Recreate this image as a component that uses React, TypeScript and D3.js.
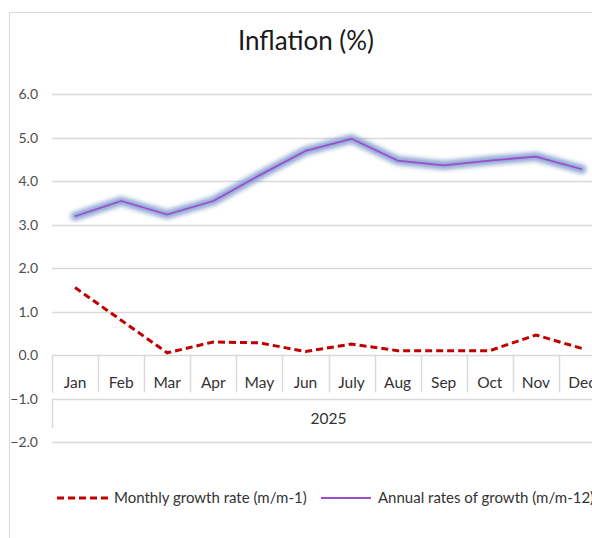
import React, { useEffect, useRef } from 'react';
import * as d3 from 'd3';

const months = ['Jan', 'Feb', 'Mar', 'Apr', 'May', 'Jun', 'July', 'Aug', 'Sep', 'Oct', 'Nov', 'Dec'];
const year = '2025';
const monthlyGrowth = [1.55, 0.8, 0.05, 0.3, 0.28, 0.08, 0.25, 0.1, 0.1, 0.1, 0.46, 0.15];
const annualGrowth = [3.19, 3.54, 3.23, 3.54, 4.13, 4.69, 4.97, 4.47, 4.36, 4.47, 4.56, 4.27];
const yTicks = [-2, -1, 0, 1, 2, 3, 4, 5, 6];
const seriesNames = ['Monthly growth rate (m/m-1)', 'Annual rates of growth (m/m-12)'];

const FONT = 'Lato, "Open Sans", sans-serif';

function App() {
  const svgRef = useRef<SVGSVGElement>(null);

  useEffect(() => {
    const width = 592;
    const height = 538;
    const svg = d3.select(svgRef.current);
    svg.selectAll('*').remove();

    const x = d3.scaleBand().domain(months).range([52, 605]);
    const y = d3.scaleLinear().domain([-2, 6]).range([442, 94]);
    const cx = (m: string) => (x(m) as number) + x.bandwidth() / 2;

    // chart frame (right/bottom edges fall outside the view)
    svg.append('rect')
      .attr('x', 9.5).attr('y', 12.5)
      .attr('width', 700).attr('height', 700)
      .attr('fill', '#fff')
      .attr('stroke', '#d9d9d9');

    svg.append('text')
      .attr('x', 306).attr('y', 50)
      .attr('text-anchor', 'middle')
      .style('font-family', FONT)
      .style('font-size', '26px')
      .style('fill', '#1a1a1a')
      .text('Inflation (%)');

    // gridlines
    svg.append('g').selectAll('line')
      .data(yTicks.filter(t => t !== 0))
      .enter().append('line')
      .attr('x1', 52).attr('x2', width)
      .attr('y1', d => Math.round(y(d)) + 0.5)
      .attr('y2', d => Math.round(y(d)) + 0.5)
      .attr('stroke', '#d9d9d9')
      .attr('stroke-width', 1.5);

    // y tick labels
    svg.append('g').selectAll('text')
      .data(yTicks)
      .enter().append('text')
      .attr('x', 38)
      .attr('y', d => y(d))
      .attr('dy', '0.36em')
      .attr('text-anchor', 'end')
      .style('font-family', FONT)
      .style('font-size', '14px')
      .style('fill', '#4d4d4d')
      .text(d => d3.format('.1f')(d));

    // category axis at zero
    const y0 = Math.round(y(0)) + 0.5;
    const yMid = Math.round(y(-1)) + 0.5;
    const axis = svg.append('g').attr('stroke', '#d9d9d9').attr('stroke-width', 1.5);
    axis.append('line').attr('x1', 52).attr('x2', width).attr('y1', y0).attr('y2', y0);
    axis.selectAll('line.tick')
      .data(months)
      .enter().append('line')
      .attr('class', 'tick')
      .attr('x1', d => Math.round(x(d) as number) + 0.5)
      .attr('x2', d => Math.round(x(d) as number) + 0.5)
      .attr('y1', y0).attr('y2', yMid - 7);
    axis.append('line')
      .attr('x1', 52.5).attr('x2', 52.5)
      .attr('y1', yMid).attr('y2', 428);

    svg.append('g').selectAll('text')
      .data(months)
      .enter().append('text')
      .attr('x', d => cx(d))
      .attr('y', 388)
      .attr('text-anchor', 'middle')
      .style('font-family', FONT)
      .style('font-size', '15.5px')
      .style('fill', '#333')
      .text(d => d);

    svg.append('text')
      .attr('x', (52 + 605) / 2)
      .attr('y', 424)
      .attr('text-anchor', 'middle')
      .style('font-family', FONT)
      .style('font-size', '15.5px')
      .style('fill', '#333')
      .text(year);

    // glow filter
    const defs = svg.append('defs');
    const filter = defs.append('filter').attr('id', 'glow')
      .attr('x', '-10%').attr('y', '-20%').attr('width', '120%').attr('height', '140%');
    filter.append('feGaussianBlur').attr('stdDeviation', 2);

    const line = d3.line<number>()
      .x((d, i) => cx(months[i]))
      .y(d => y(d));

    svg.append('path')
      .datum(annualGrowth)
      .attr('d', line)
      .attr('fill', 'none')
      .attr('stroke', '#7f99cc')
      .attr('stroke-width', 9)
      .attr('stroke-linejoin', 'round')
      .attr('stroke-linecap', 'round')
      .attr('opacity', 0.85)
      .attr('filter', 'url(#glow)');

    svg.append('path')
      .datum(annualGrowth)
      .attr('d', line)
      .attr('fill', 'none')
      .attr('stroke', '#9a4fd0')
      .attr('stroke-width', 1.8)
      .attr('stroke-linejoin', 'round');

    svg.append('path')
      .datum(monthlyGrowth)
      .attr('d', line)
      .attr('fill', 'none')
      .attr('stroke', '#c00000')
      .attr('stroke-width', 3)
      .attr('stroke-dasharray', '7,4');

    // legend
    const legend = svg.append('g').attr('transform', 'translate(0,498)');
    legend.append('line')
      .attr('x1', 57).attr('x2', 108)
      .attr('stroke', '#c00000').attr('stroke-width', 3)
      .attr('stroke-dasharray', '7,4');
    legend.append('text')
      .attr('x', 114).attr('dy', '0.35em')
      .style('font-family', FONT).style('font-size', '15px').style('fill', '#333')
      .text(seriesNames[0]);
    legend.append('line')
      .attr('x1', 321).attr('x2', 371)
      .attr('stroke', '#9a4fd0').attr('stroke-width', 1.8);
    legend.append('text')
      .attr('x', 378).attr('dy', '0.35em')
      .style('font-family', FONT).style('font-size', '15px').style('fill', '#333')
      .text(seriesNames[1]);

    svg.attr('width', width).attr('height', height);
  }, []);

  return (
    <svg
      ref={svgRef}
      style={{ position: 'absolute', left: 0, top: 0, display: 'block', overflow: 'hidden' }}
    />
  );
}

export default App;
